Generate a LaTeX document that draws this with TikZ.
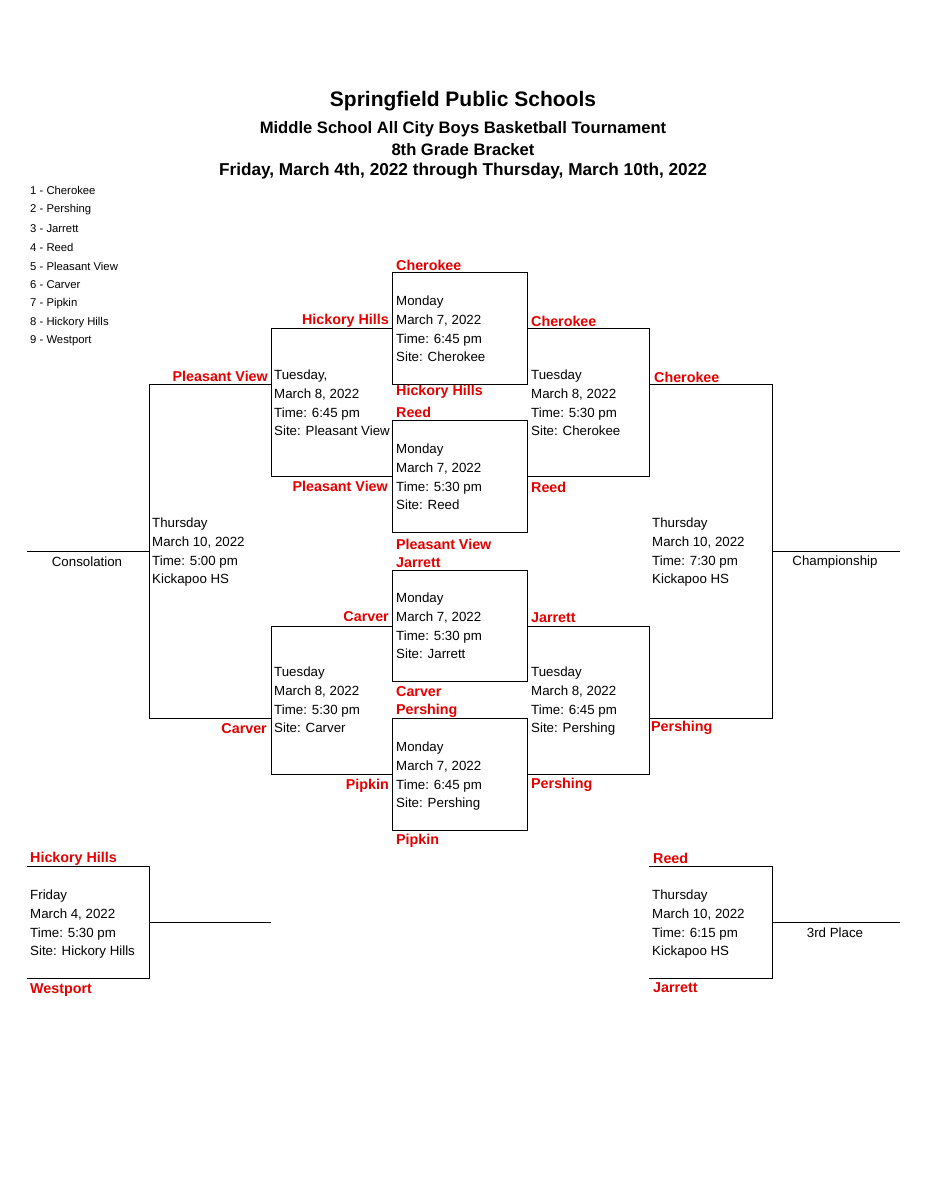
\documentclass[tikz,border=0pt]{standalone}
\usepackage{fontspec}
\setmainfont{Liberation Sans}
\usepackage{tikz}
\definecolor{teamred}{RGB}{230,0,0}
\tikzset{
  team/.style={text=teamred, font=\fontsize{14.3}{16}\selectfont\bfseries, inner sep=0pt},
  info/.style={anchor=north west, align=left, inner sep=0pt, font=\fontsize{13.3}{18.7}\selectfont},
  seed/.style={anchor=west, inner sep=0pt, font=\fontsize{11.3}{12}\selectfont},
  bracket/.style={line width=0.9pt, black}
}
\begin{document}
\begin{tikzpicture}[x=1pt, y=-1pt]
	\useasboundingbox (0,0) rectangle (927,1200);
	
	% titles
	\node (t1) at (463,101) [font=\fontsize{21}{23}\selectfont\bfseries] {Springfield Public Schools};
	\node (t2) at (463,129) [font=\fontsize{16.6}{18}\selectfont\bfseries] {Middle School All City Boys Basketball Tournament};
	\node (t3) at (463,150) [font=\fontsize{16.6}{18}\selectfont\bfseries] {8th Grade Bracket};
	\node (t4) at (463,171) [font=\fontsize{17.2}{19}\selectfont\bfseries] {Friday, March 4th, 2022 through Thursday, March 10th, 2022};
	
	% seeds
	\foreach \s [count=\i] in {Cherokee, Pershing, Jarrett, Reed, Pleasant View, Carver, Pipkin, Hickory Hills, Westport}
		\node (s\i) [seed] at (30,{172+18.8*\i}) {\i\ - \s};
	
	% brackets
	\draw [bracket] (392,272) rectangle (527,384);
	\draw [bracket] (392,420) rectangle (527,532);
	\draw [bracket] (392,570) rectangle (527,681);
	\draw [bracket] (392,718) rectangle (527,830);
	\draw [bracket] (392,328) -- (271,328) -- (271,476) -- (392,476);
	\draw [bracket] (527,328) -- (649,328) -- (649,476) -- (527,476);
	\draw [bracket] (392,626) -- (271,626) -- (271,774) -- (392,774);
	\draw [bracket] (527,626) -- (649,626) -- (649,774) -- (527,774);
	\draw [bracket] (271,384) -- (149,384) -- (149,718) -- (271,718);
	\draw [bracket] (649,384) -- (772,384) -- (772,718) -- (649,718);
	\draw [bracket] (27,551) -- (149,551);
	\draw [bracket] (772,551) -- (900,551);
	\draw [bracket] (27,866) -- (149,866) -- (149,978) -- (27,978);
	\draw [bracket] (149,922) -- (271,922);
	\draw [bracket] (649,866) -- (772,866) -- (772,978) -- (649,978);
	\draw [bracket] (772,922) -- (900,922);
	
	% game info
	\node (g1) [info] at (396,296) {Monday\\March 7, 2022\\Time: 6:45 pm\\Site: Cherokee};
	\node (g2) [info] at (396,444) {Monday\\March 7, 2022\\Time: 5:30 pm\\Site: Reed};
	\node (g3) [info] at (396,593) {Monday\\March 7, 2022\\Time: 5:30 pm\\Site: Jarrett};
	\node (g4) [info] at (396,742) {Monday\\March 7, 2022\\Time: 6:45 pm\\Site: Pershing};
	\node (g5) [info] at (274,370) {Tuesday,\\March 8, 2022\\Time: 6:45 pm\\Site: Pleasant View};
	\node (g6) [info] at (531,370) {Tuesday\\March 8, 2022\\Time: 5:30 pm\\Site: Cherokee};
	\node (g7) [info] at (274,667) {Tuesday\\March 8, 2022\\Time: 5:30 pm\\Site: Carver};
	\node (g8) [info] at (531,667) {Tuesday\\March 8, 2022\\Time: 6:45 pm\\Site: Pershing};
	\node (g9) [info] at (152,518) {Thursday\\March 10, 2022\\Time: 5:00 pm\\Kickapoo HS};
	\node (g10) [info] at (652,518) {Thursday\\March 10, 2022\\Time: 7:30 pm\\Kickapoo HS};
	\node (g11) [info] at (30,890) {Friday\\March 4, 2022\\Time: 5:30 pm\\Site: Hickory Hills};
	\node (g12) [info] at (652,890) {Thursday\\March 10, 2022\\Time: 6:15 pm\\Kickapoo HS};
	\node (cons) at (87,562) [font=\fontsize{13.3}{15}\selectfont] {Consolation};
	\node (champ) at (835,562) [font=\fontsize{13.3}{15}\selectfont] {Championship};
	\node (third) at (835,933) [font=\fontsize{13.3}{15}\selectfont] {3rd Place};
	
	% teams
	\node (r1) [team, anchor=west] at (396,265) {Cherokee};
	\node (r2) [team, anchor=west] at (396,392) {Hickory Hills};
	\node (r3) [team, anchor=west] at (396,412) {Reed};
	\node (r4) [team, anchor=west] at (396,544) {Pleasant View};
	\node (r5) [team, anchor=west] at (396,563) {Jarrett};
	\node (r6) [team, anchor=west] at (396,692) {Carver};
	\node (r7) [team, anchor=west] at (396,711) {Pershing};
	\node (r8) [team, anchor=west] at (396,841) {Pipkin};
	\node (l1) [team, anchor=east] at (389,321) {Hickory Hills};
	\node (l2) [team, anchor=east] at (388,486) {Pleasant View};
	\node (l3) [team, anchor=east] at (389,617) {Carver};
	\node (l4) [team, anchor=east] at (389,786) {Pipkin};
	\node (l5) [team, anchor=east] at (268,376) {Pleasant View};
	\node (l6) [team, anchor=east] at (267,729) {Carver};
	\node (q1) [team, anchor=west] at (531,321) {Cherokee};
	\node (q2) [team, anchor=west] at (531,487) {Reed};
	\node (q3) [team, anchor=west] at (531,618) {Jarrett};
	\node (q4) [team, anchor=west] at (531,785) {Pershing};
	\node (f1) [team, anchor=west] at (654,377) {Cherokee};
	\node (f2) [team, anchor=west] at (651,728) {Pershing};
	\node (p1) [team, anchor=west] at (30,859) {Hickory Hills};
	\node (p2) [team, anchor=west] at (30,990) {Westport};
	\node (p3) [team, anchor=west] at (653,858) {Reed};
	\node (p4) [team, anchor=west] at (653,988) {Jarrett};
	
\end{tikzpicture}
\end{document}
